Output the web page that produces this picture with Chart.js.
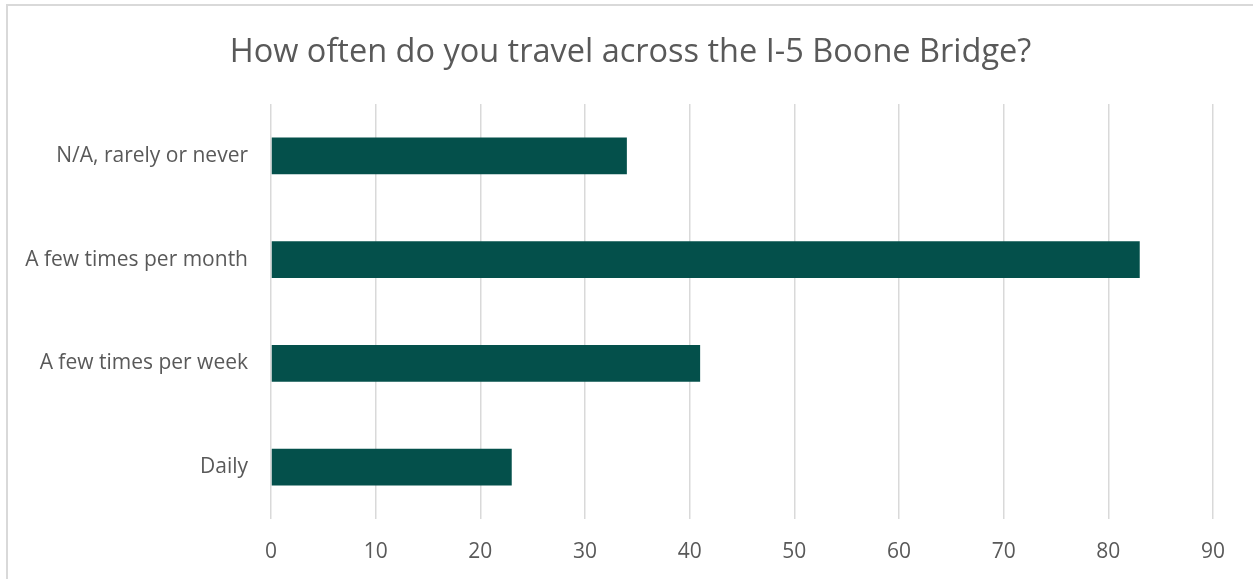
<!DOCTYPE html>
<html>
<head>
<meta charset="utf-8">
<script src="https://cdn.jsdelivr.net/npm/chart.js@4"></script>
<style>
  html, body { margin: 0; padding: 0; background: #fff; overflow: hidden; }
  #frame {
    position: absolute; left: 6px; top: 4px; width: 1260px; height: 590px;
    border: 2px solid #d9d9d9; box-sizing: border-box;
  }
  #wrap { position: absolute; left: 0; top: 0; width: 1253px; height: 579px; }
</style>
</head>
<body>
<div id="frame"></div>
<div id="wrap"><canvas id="bridge-chart"></canvas></div>
<script>
const categories = ['N/A, rarely or never', 'A few times per month', 'A few times per week', 'Daily']
const responses = [34, 83, 41, 23]
const xTicks = [0, 10, 20, 30, 40, 50, 60, 70, 80, 90]

const fontFamily = "'Open Sans', 'Liberation Sans', sans-serif"
const textColor = '#595959'

// the right padding pushes the title off centre, so widen its box on the left
const centreTitle = {
  id: 'centreTitle',
  afterLayout (chart) {
    if (chart.titleBlock) chart.titleBlock.left += 48
  }
}

const ctx = document.getElementById('bridge-chart').getContext('2d')
const chart = new Chart(ctx, {
  type: 'bar',
  data: {
    labels: categories,
    datasets: [
      {
        label: 'Responses',
        data: responses,
        backgroundColor: '#04504b',
        borderWidth: 0,
        categoryPercentage: 1,
        barPercentage: 0.356
      }
    ]
  },
  plugins: [centreTitle],
  options: {
    indexAxis: 'y',
    responsive: true,
    maintainAspectRatio: false,
    animation: false,
    layout: {
      padding: { top: 0, right: 40, bottom: 0, left: 0 }
    },
    plugins: {
      legend: { display: false },
      tooltip: { enabled: false },
      title: {
        display: true,
        text: 'How often do you travel across the I-5 Boone Bridge?',
        color: textColor,
        font: { family: fontFamily, size: 32.5, weight: 'normal', lineHeight: 1.2 },
        padding: { top: 33, bottom: 32 }
      }
    },
    scales: {
      x: {
        min: 0,
        max: 90,
        afterBuildTicks: (scale) => {
          scale.ticks = xTicks.map((v) => ({ value: v }))
        },
        grid: { color: '#d9d9d9', lineWidth: 1.5, drawTicks: false },
        border: { display: false },
        ticks: {
          color: textColor,
          padding: 20,
          font: { family: fontFamily, size: 21 }
        },
        afterFit: (scale) => { scale.height = 60 }
      },
      y: {
        grid: { display: false },
        border: { display: false },
        ticks: {
          color: textColor,
          padding: 15,
          font: { family: fontFamily, size: 21 }
        },
        afterFit: (scale) => { scale.width = 271 }
      }
    }
  }
})
</script>
</body>
</html>
